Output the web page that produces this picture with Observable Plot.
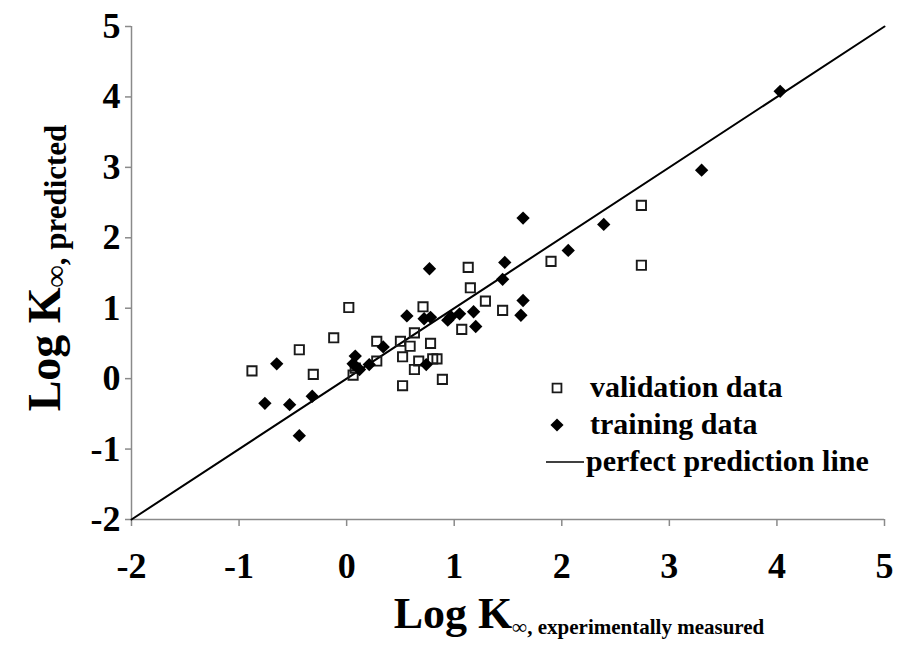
<!DOCTYPE html>
<html>
<head>
<meta charset="utf-8">
<script src="https://cdn.jsdelivr.net/npm/d3@7"></script>
<script src="https://cdn.jsdelivr.net/npm/@observablehq/plot@0.6"></script>
<style>
  html, body { margin: 0; padding: 0; background: #fff; }
  #chart svg { display: block; }
</style>
</head>
<body>
<div id="chart"></div>
<script>
// Validation set: measured vs predicted log K∞
const validationX = [-0.88, -0.44, -0.31, -0.12, 0.02, 0.06, 0.08, 0.28, 0.28, 0.50,
                     0.52, 0.52, 0.59, 0.63, 0.63, 0.67, 0.71, 0.78, 0.80, 0.84,
                     0.89, 1.07, 1.13, 1.15, 1.29, 1.45, 1.90, 2.74, 2.74];
const validationY = [0.11, 0.41, 0.06, 0.58, 1.01, 0.05, 0.15, 0.53, 0.25, 0.53,
                     0.31, -0.10, 0.46, 0.65, 0.13, 0.25, 1.02, 0.50, 0.28, 0.28,
                     -0.01, 0.70, 1.58, 1.29, 1.10, 0.97, 1.665, 2.46, 1.61];

// Training set: measured vs predicted log K∞
const trainingX = [-0.76, -0.65, -0.53, -0.44, -0.32, 0.08, 0.06, 0.12, 0.21, 0.34,
                   0.56, 0.72, 0.74, 0.77, 0.78, 0.94, 0.97, 1.05, 1.18, 1.20,
                   1.45, 1.47, 1.62, 1.64, 1.64, 2.06, 2.39, 3.30, 4.03];
const trainingY = [-0.35, 0.21, -0.37, -0.81, -0.25, 0.32, 0.21, 0.13, 0.20, 0.45,
                   0.89, 0.85, 0.20, 1.56, 0.87, 0.83, 0.88, 0.92, 0.95, 0.74,
                   1.41, 1.65, 0.90, 1.11, 2.28, 1.82, 2.19, 2.96, 4.08];

// Perfect prediction line y = x
const perfectX = [-2, 5];
const perfectY = [-2, 5];

const tickValues = [-2, -1, 0, 1, 2, 3, 4, 5];
const axisDomain = [-2, 5];

const legendLabels = ["validation data", "training data", "perfect prediction line"];
const xTitleMain = "Log K";
const xTitleSub = "\u221E, experimentally measured";
const yTitleMain = "Log K";
const yTitleSub = "\u221E, predicted";

const validation = validationX.map((x, i) => ({x, y: validationY[i]}));
const training = trainingX.map((x, i) => ({x, y: trainingY[i]}));
const perfect = perfectX.map((x, i) => ({x, y: perfectY[i]}));

const axisGray = "#8a8a8a";
const font = "'Liberation Serif', 'Times New Roman', serif";
const tickFontSize = 36;

const plot = Plot.plot({
  width: 899,
  height: 650,
  marginLeft: 131,
  marginRight: 15,
  marginTop: 26,
  marginBottom: 131,
  style: {fontFamily: font, fontWeight: "bold", background: "white", color: "black"},
  x: {domain: axisDomain},
  y: {domain: axisDomain},
  marks: [
    Plot.ruleX([-2], {stroke: axisGray, strokeWidth: 1.5}),
    Plot.ruleY([-2], {stroke: axisGray, strokeWidth: 1.5}),
    Plot.axisX({ticks: tickValues, tickFormat: d => String(d), tickSize: 7, tickPadding: 26,
                fontSize: tickFontSize, stroke: axisGray, strokeWidth: 1.5, fill: "black", label: null}),
    Plot.axisY({ticks: tickValues, tickFormat: d => String(d), tickSize: 6, tickPadding: 5,
                fontSize: tickFontSize, stroke: axisGray, strokeWidth: 1.5, fill: "black", label: null}),
    Plot.line(perfect, {x: "x", y: "y", stroke: "black", strokeWidth: 2}),
    Plot.dot(validation, {x: "x", y: "y", symbol: "square", r: 5.2, fill: "none",
                          stroke: "#1a1a1a", strokeWidth: 1.9}),
    Plot.dot(training, {x: "x", y: "y", symbol: "diamond2", r: 6, fill: "black", stroke: "none"})
  ]
});

document.getElementById("chart").appendChild(plot);

const svg = d3.select(plot);

// Make sure the tick labels carry the large bold size
svg.selectAll("g[aria-label$='tick label']")
  .attr("font-size", tickFontSize)
  .selectAll("text").attr("font-size", tickFontSize);

// Axis titles with subscripts
const xt = svg.append("text")
  .attr("x", 579).attr("y", 628)
  .attr("text-anchor", "middle")
  .style("font-family", font).style("font-weight", "bold").attr("fill", "black");
xt.append("tspan").attr("font-size", 44).text(xTitleMain);
xt.append("tspan").attr("font-size", 21).attr("dy", 6).text(xTitleSub);

const yt = svg.append("text")
  .attr("transform", "translate(60,268) rotate(-90)")
  .attr("text-anchor", "middle")
  .style("font-family", font).style("font-weight", "bold").attr("fill", "black");
yt.append("tspan").attr("font-size", 46).text(yTitleMain);
yt.append("tspan").attr("font-size", 31).attr("dy", 6).text(yTitleSub);

// Legend
const legend = svg.append("g").attr("text-anchor", "start");
const rowY = [388, 425, 462];
const symX = 557;
legend.append("path")
  .attr("transform", `translate(${symX},${rowY[0]})`)
  .attr("d", d3.symbol(d3.symbolSquare, Math.PI * 5 * 5)())
  .attr("fill", "none").attr("stroke", "#1a1a1a").attr("stroke-width", 1.8);
legend.append("path")
  .attr("transform", `translate(${symX},${rowY[1]})`)
  .attr("d", d3.symbol(d3.symbolDiamond2, Math.PI * 5.9 * 5.9)())
  .attr("fill", "black");
legend.append("line")
  .attr("x1", 546).attr("x2", 584).attr("y1", rowY[2]).attr("y2", rowY[2])
  .attr("stroke", "black").attr("stroke-width", 1.5);
legend.selectAll("text.lg")
  .data(legendLabels)
  .join("text")
  .attr("class", "lg")
  .attr("x", (d, i) => i === 2 ? 586 : 590)
  .attr("y", (d, i) => rowY[i] + 9)
  .attr("font-size", 30)
  .attr("text-anchor", "start")
  .style("font-family", font).style("font-weight", "bold").attr("fill", "black")
  .text(d => d);
</script>
</body>
</html>
